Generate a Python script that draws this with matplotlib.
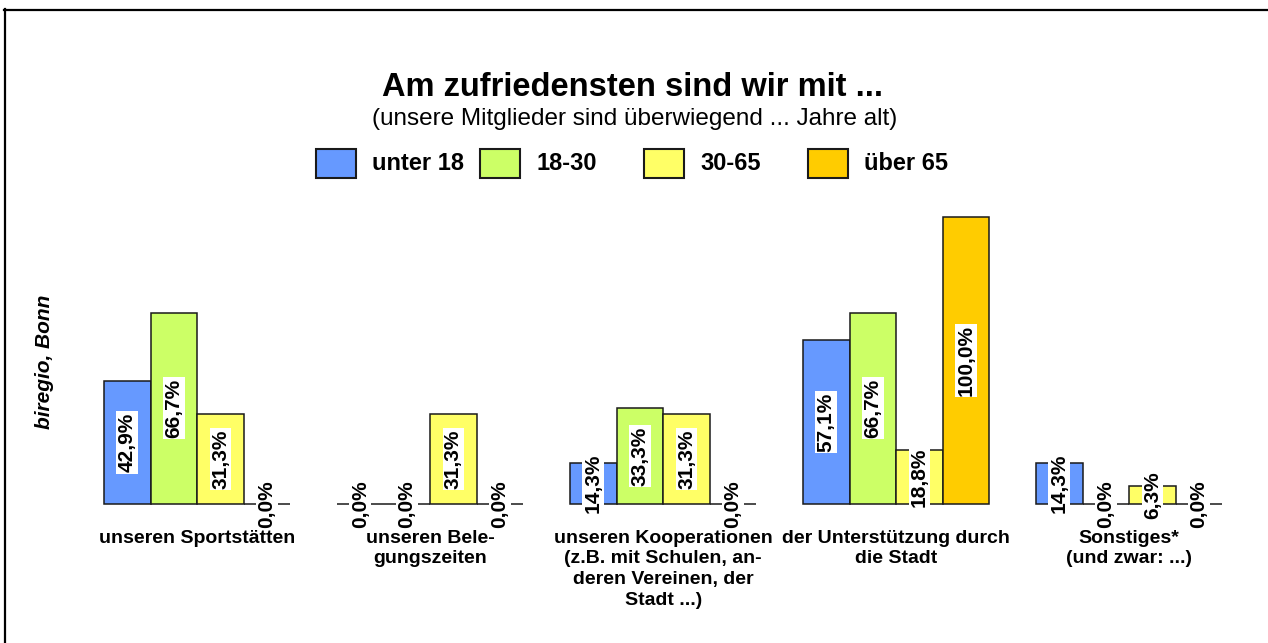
import matplotlib
matplotlib.use("Agg")
import matplotlib.pyplot as plt
from matplotlib.patches import Rectangle
from matplotlib.lines import Line2D
import numpy as np

plt.rcParams['font.family'] = ['Liberation Sans', 'DejaVu Sans']

categories = [
    "unseren Sportstätten",
    "unseren Bele-\ngungszeiten",
    "unseren Kooperationen\n(z.B. mit Schulen, an-\nderen Vereinen, der\nStadt ...)",
    "der Unterstützung durch\ndie Stadt",
    "Sonstiges*\n(und zwar: ...)",
]
series_names = ["unter 18", "18-30", "30-65", "über 65"]
unter_18 = [42.9, 0.0, 14.3, 57.1, 14.3]
age_18_30 = [66.7, 0.0, 33.3, 66.7, 0.0]
age_30_65 = [31.3, 31.3, 31.3, 18.8, 6.3]
ueber_65 = [0.0, 0.0, 0.0, 100.0, 0.0]
series = [unter_18, age_18_30, age_30_65, ueber_65]
colors = ["#6699FF", "#CCFF66", "#FFFF66", "#FFCC00"]

title = "Am zufriedensten sind wir mit ..."
subtitle = "(unsere Mitglieder sind überwiegend ... Jahre alt)"
side_label = "biregio, Bonn"

W, H = 1268, 643
fig = plt.figure(figsize=(W / 100, H / 100), dpi=100)
fig.patch.set_facecolor("white")

ax_left, ax_right = 80.7, 1245.7
ax_base, ax_top = 504, 217
ax = fig.add_axes([ax_left / W, (H - ax_base) / H, (ax_right - ax_left) / W, (ax_base - ax_top) / H])
ax.set_xlim(-0.5, len(categories) - 0.5)
ax.set_ylim(0, 100)
ax.axis("off")

x = np.arange(len(categories))
bw = 0.2
for i, (vals, col) in enumerate(zip(series, colors)):
    pos = x + (i - 1.5) * bw
    ax.bar(pos, vals, width=bw, color=col, edgecolor="#1a1a1a", linewidth=1.1, clip_on=False, zorder=2)
    for xp, v in zip(pos, vals):
        lbl = f"{v:.1f}%".replace(".", ",")
        ax.text(xp, v / 2, lbl, rotation=90, ha="center", va="center", fontsize=15, fontweight="bold",
                bbox=dict(facecolor="white", edgecolor="none", pad=1.0), zorder=3, clip_on=False)

for xi, cat in zip(x, categories):
    ax.annotate(cat, xy=(xi, 0), xytext=(0, -18.5), textcoords="offset points", ha="center", va="top",
                fontsize=14, fontweight="bold", linespacing=1.28, annotation_clip=False)

fig.text(632 / W, 1 - 87 / H, title, ha="center", va="center", fontsize=23.5, fontweight="bold")
fig.text(635 / W, 1 - 119 / H, subtitle, ha="center", va="center", fontsize=17.5)
fig.text(45 / W, 1 - 362 / H, side_label, ha="center", va="center", rotation=90, fontsize=15,
         fontweight="bold", style="italic")

# legend
leg_x0, leg_step = 316, 164
for i, (name, col) in enumerate(zip(series_names, colors)):
    px = leg_x0 + i * leg_step
    fig.patches.append(Rectangle((px / W, 1 - 178 / H), 40 / W, 29 / H, transform=fig.transFigure,
                                 facecolor=col, edgecolor="#1a1a1a", linewidth=1.5))
    fig.text((px + 56) / W, 1 - 164 / H, name, ha="left", va="center", fontsize=17, fontweight="bold")

# frame (top and left)
fig.lines.append(Line2D([4 / W, 1], [1 - 9.5 / H, 1 - 9.5 / H], transform=fig.transFigure, color="black", linewidth=1.6))
fig.lines.append(Line2D([5 / W, 5 / W], [0, 1 - 9 / H], transform=fig.transFigure, color="black", linewidth=1.6))

fig.savefig("out.png", dpi=100, facecolor="white")
